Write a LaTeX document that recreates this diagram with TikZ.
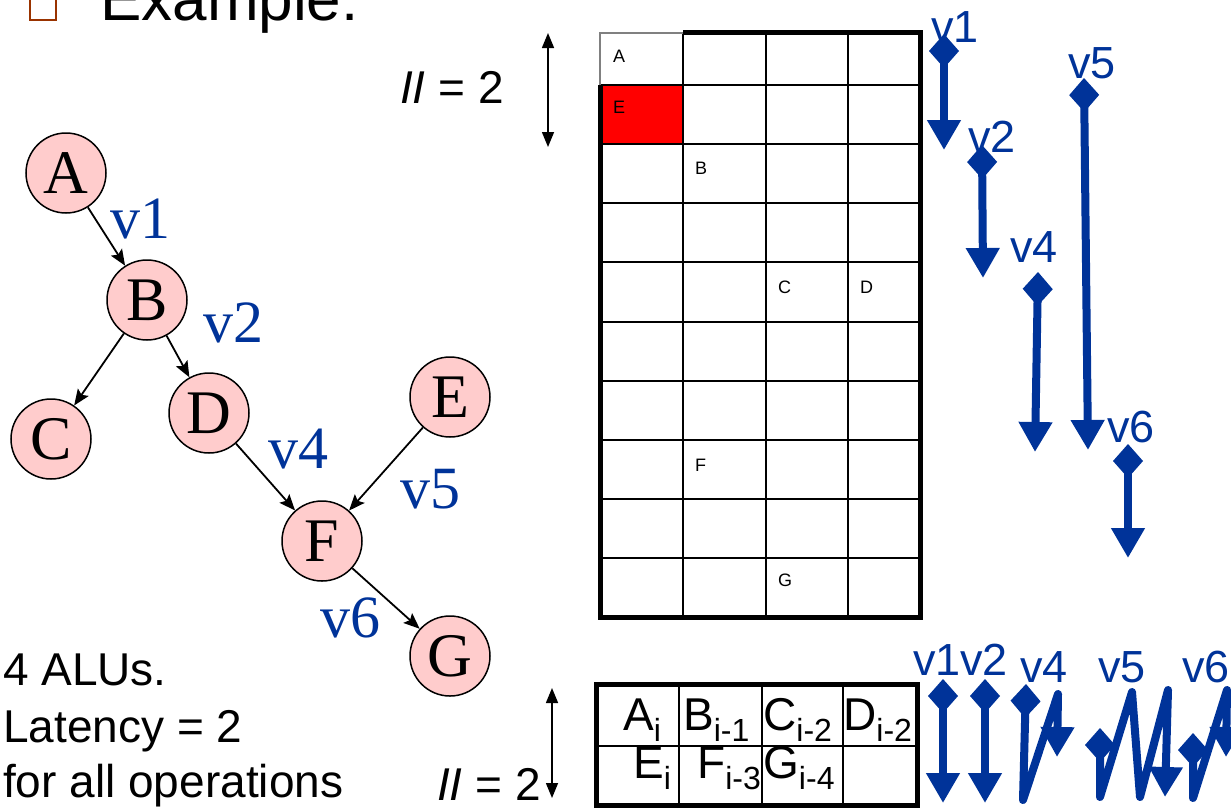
\documentclass[tikz,border=0pt]{standalone}
\usepackage{fontspec}
\setmainfont{Liberation Serif}
\setsansfont{Liberation Sans}
\usetikzlibrary{arrows.meta}
\definecolor{vblue}{HTML}{003399}
\definecolor{npink}{HTML}{FFCCCC}
\definecolor{bulletc}{HTML}{993300}
\newcommand\subtx[1]{\raisebox{-11pt}{\fontsize{32}{34}\selectfont #1}}
\begin{document}
\begin{tikzpicture}[x=1pt,y=-1pt,
  gnode/.style={circle,draw,line width=1.5pt,fill=npink,minimum size=80pt,inner sep=0pt,font=\fontsize{62}{62}\selectfont},
  gedge/.style={line width=1.8pt,-{Stealth[length=16pt,width=13pt,inset=3pt]}},
  vlab/.style={text=vblue,font=\fontsize{60}{60}\selectfont,anchor=base west,inner sep=0pt},
  slab/.style={text=vblue,font=\sffamily\fontsize{45}{45}\selectfont,anchor=base west,inner sep=0pt},
  txt/.style={font=\sffamily\fontsize{46}{50}\selectfont,anchor=base west,inner sep=0pt},
  cell/.style={font=\sffamily\fontsize{18}{18}\selectfont,anchor=base west,inner sep=0pt},
  btx/.style={font=\sffamily\fontsize{46}{50}\selectfont,anchor=base west,inner sep=0pt},
  life/.style={draw=vblue,line width=8pt,line join=round,{Diamond[length=34pt,width=30pt]}-{Triangle[length=30pt,width=32pt]}},
  dbl/.style={line width=1.5pt,{Triangle[length=15pt,width=12pt]}-{Triangle[length=15pt,width=12pt]}},
  thin/.style={line width=2pt},
  thick/.style={line width=5pt}
]
\useasboundingbox (0,0) rectangle (1231,807);

% title
\draw[bulletc,line width=2.5pt] (30,-8) rectangle (56,20);
\node[txt,font=\sffamily\fontsize{62}{62}\selectfont] (title) at (100,20) {Example:};

% graph
\node[gnode] (A) at (66,173) {A};
\node[gnode] (B) at (147,300) {B};
\node[gnode] (C) at (51,439) {C};
\node[gnode] (D) at (209,413) {D};
\node[gnode] (E) at (450,397) {E};
\node[gnode] (F) at (322,541) {F};
\node[gnode] (G) at (450,656) {G};
\draw[gedge] (A) -- (B);
\draw[gedge] (B) -- (C);
\draw[gedge] (B) -- (D);
\draw[gedge] (D) -- (F);
\draw[gedge] (E) -- (F);
\draw[gedge] (F) -- (G);
\node[vlab] (l1) at (110,238) {v1};
\node[vlab] (l2) at (203,342) {v2};
\node[vlab] (l4) at (268,468) {v4};
\node[vlab] (l5) at (400,508) {v5};
\node[vlab] (l6) at (320,637) {v6};

% left text
\node[txt] (t1) at (3,685) {4 ALUs.};
\node[txt] (t2) at (3,742) {Latency = 2};
\node[txt] (t3) at (3,797) {for all operations};

% II labels and double arrows
\node[txt] (ii1) at (400,103) {{\itshape II} = 2};
\coordinate (d1a) at (548,33); \coordinate (d1b) at (548,147);
\draw[dbl] (d1a) -- (d1b);
\node[txt] (ii2) at (437,800) {{\itshape II} = 2};
\coordinate (d2a) at (552,688); \coordinate (d2b) at (552,798);
\draw[dbl] (d2a) -- (d2b);

% top grid
\fill[red] (600,85) rectangle (683,144);
\foreach \x in {683,766,848} \draw[thin] (\x,33) -- (\x,617);
\foreach \y in {85,144,203,262,322,381,440,499,558} \draw[thin] (600,\y) -- (920,\y);
\draw[gray,line width=1.5pt] (600,85) -- (600,33) -- (683,33);
\draw[thick] (683,32) -- (920,32) -- (920,617) -- (600,617) -- (600,85);
\node[cell] (cA) at (613,62) {A};
\node[cell] (cE) at (613,113) {E};
\node[cell] (cB) at (695,174) {B};
\node[cell] (cC) at (778,293) {C};
\node[cell] (cD) at (860,293) {D};
\node[cell] (cF) at (695,471) {F};
\node[cell] (cG) at (778,586) {G};

% top lifetimes
\coordinate (a1) at (944,34);  \coordinate (b1) at (944,150);
\coordinate (a2) at (982,145); \coordinate (b2) at (983,278);
\coordinate (a4) at (1038,272); \coordinate (b4) at (1035,452);
\coordinate (a5) at (1084,78); \coordinate (b5) at (1088,450);
\coordinate (a6) at (1128,444); \coordinate (b6) at (1128,558);
\draw[life] (a1) -- (b1);
\draw[life] (a2) -- (b2);
\draw[life] (a4) -- (b4);
\draw[life] (a5) -- (b5);
\draw[life] (a6) -- (b6);
\node[slab] (s1) at (931,42) {v1};
\node[slab] (s2) at (968,152) {v2};
\node[slab] (s4) at (1010,262) {v4};
\node[slab] (s5) at (1068,78) {v5};
\node[slab] (s6) at (1107,442) {v6};

% bottom table
\draw[thin] (596,746) -- (917,746);
\foreach \x in {679,762,843} \draw[thin] (\x,684) -- (\x,805);
\draw[thick] (596,684) rectangle (917,805);
\node[btx] (bA) at (623,730) {A\subtx{i}};
\node[btx] (bB) at (683,730) {B\subtx{i-1}};
\node[btx] (bC) at (763,730) {C\subtx{i-2}};
\node[btx] (bD) at (843,730) {D\subtx{i-2}};
\node[btx] (bE) at (633,778) {E\subtx{i}};
\node[btx] (bF) at (697,778) {F\subtx{i-3}};
\node[btx] (bG) at (763,778) {G\subtx{i-4}};

% bottom lifetimes (modulo)
\coordinate (m1a) at (943,679); \coordinate (m1b) at (943,803);
\coordinate (m2a) at (985,679); \coordinate (m2b) at (985,803);
\draw[life] (m1a) -- (m1b);
\draw[life] (m2a) -- (m2b);
\coordinate (m4a) at (1026,684); \coordinate (m4p) at (1023,800);
\coordinate (m4q) at (1058,694); \coordinate (m4b) at (1057,757);
\draw[life] (m4a) -- (m4p) -- (m4q) -- (m4b);
\coordinate (m5a) at (1100,728); \coordinate (m5p) at (1100,797);
\coordinate (m5q) at (1132,692); \coordinate (m5r) at (1140,797);
\coordinate (m5s) at (1168,690); \coordinate (m5b) at (1165,797);
\draw[life] (m5a) -- (m5p) -- (m5q) -- (m5r) -- (m5s) -- (m5b);
\coordinate (m6a) at (1193,733); \coordinate (m6p) at (1193,798);
\coordinate (m6q) at (1227,690); \coordinate (m6b) at (1226,757);
\draw[life] (m6a) -- (m6p) -- (m6q) -- (m6b);
\node[slab] (u1) at (913,675) {v1};
\node[slab] (u2) at (960,675) {v2};
\node[slab] (u4) at (1020,682) {v4};
\node[slab] (u5) at (1098,682) {v5};
\node[slab] (u6) at (1182,682) {v6};
\end{tikzpicture}
\end{document}
